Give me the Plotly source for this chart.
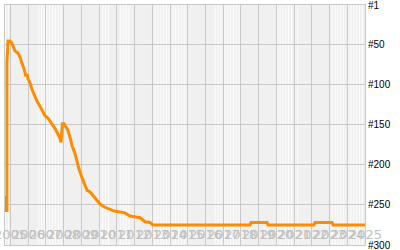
import plotly.graph_objects as go

# --- data ---
years = [2004.69, 2004.75, 2004.80, 2004.80, 2004.86, 2004.97, 2005.08, 2005.14, 2005.25,
         2005.42, 2005.54, 2005.65, 2005.76, 2005.87, 2005.93, 2005.99, 2006.10, 2006.21,
         2006.38, 2006.50, 2006.66, 2006.78, 2006.95, 2007.12, 2007.34, 2007.51, 2007.68,
         2007.79, 2007.85, 2007.93, 2008.02, 2008.13, 2008.24, 2008.36, 2008.47, 2008.64,
         2008.75, 2008.86, 2009.03, 2009.20, 2009.32, 2009.49, 2009.60, 2009.77, 2010.05,
         2010.33, 2010.61, 2010.90, 2011.18, 2011.46, 2011.74, 2012.02, 2012.31, 2012.59,
         2012.87, 2013.04, 2018.51, 2018.57, 2019.47, 2019.53, 2022.12, 2022.18, 2023.14,
         2023.20, 2025.0]
ranks = [239, 257, 257, 72, 46, 46, 48.5, 52, 58,
         61, 66, 74, 80, 90, 87, 93, 98, 106,
         116, 121, 127, 132, 139, 142, 149, 155, 162,
         167, 172, 149, 149, 154, 157, 166, 176, 186,
         197, 205, 216, 226, 232, 234, 237, 242, 249,
         253, 255, 258, 259, 260, 264, 265, 266, 271,
         272, 275, 275, 272, 272, 275, 275, 272, 272,
         275, 275]

tick_years = list(range(2005, 2026))
tick_year_labels = [str(y) for y in tick_years]
rank_ticks = [1, 50, 100, 150, 200, 250, 300]
rank_labels = ["#" + str(r) for r in rank_ticks]

# decorative white stripe bands (year ranges)
stripe_bands = [(2004.72, 2004.97), (2006.6, 2007.0), (2007.05, 2007.95), (2010.05, 2010.6),
                (2011.2, 2011.7), (2013.0, 2014.0), (2014.0, 2015.0), (2016.55, 2016.95),
                (2017.1, 2017.95), (2020.05, 2020.9), (2021.05, 2021.35), (2023.15, 2023.9),
                (2024.05, 2024.95)]

shapes = []
for a, b in stripe_bands:
    v = a
    while v <= b:
        shapes.append(dict(type="line", xref="x", yref="paper", x0=v, x1=v, y0=0, y1=1,
                           line=dict(color="rgba(255,255,255,0.85)", width=1), layer="below"))
        v += 0.16

# year labels drawn inside the plot, at its bottom
annotations = [dict(x=yv, y=0, xref="x", yref="paper", yanchor="bottom", xanchor="center",
                    text=lab, showarrow=False, yshift=1,
                    font=dict(family="DejaVu Sans", size=13, color="#c0c0c0"))
               for yv, lab in zip(tick_years, tick_year_labels)]
# rank labels to the right of the plot
annotations += [dict(x=1, y=rv, xref="paper", yref="y", xanchor="left", yanchor="middle",
                     text=lab, showarrow=False, xshift=1,
                     font=dict(family="Liberation Sans, Arial", size=10, color="black"))
                for rv, lab in zip(rank_ticks, rank_labels)]

fig = go.Figure()
fig.add_trace(go.Scatter(x=years, y=ranks, mode="lines",
                         line=dict(color="#ff8c00", width=3), hoverinfo="skip"))

fig.update_layout(
    width=400, height=250,
    margin=dict(l=5, r=35, t=5, b=5),
    paper_bgcolor="white", plot_bgcolor="#f0f0f0",
    showlegend=False, shapes=shapes, annotations=annotations,
)
fig.update_xaxes(range=[2004.69, 2025.0], tickvals=tick_years, showticklabels=False,
                 showgrid=True, gridcolor="#c8c8c8", gridwidth=1, zeroline=False,
                 showline=True, linecolor="#c8c8c8", linewidth=1, mirror=True, ticks="",
                 automargin=False)
fig.update_yaxes(range=[300, 1], tickvals=rank_ticks, showticklabels=False,
                 showgrid=True, gridcolor="#c8c8c8", gridwidth=1, zeroline=False,
                 showline=True, linecolor="#c8c8c8", linewidth=1, mirror=True, ticks="",
                 automargin=False)

fig.write_html("out.html")
